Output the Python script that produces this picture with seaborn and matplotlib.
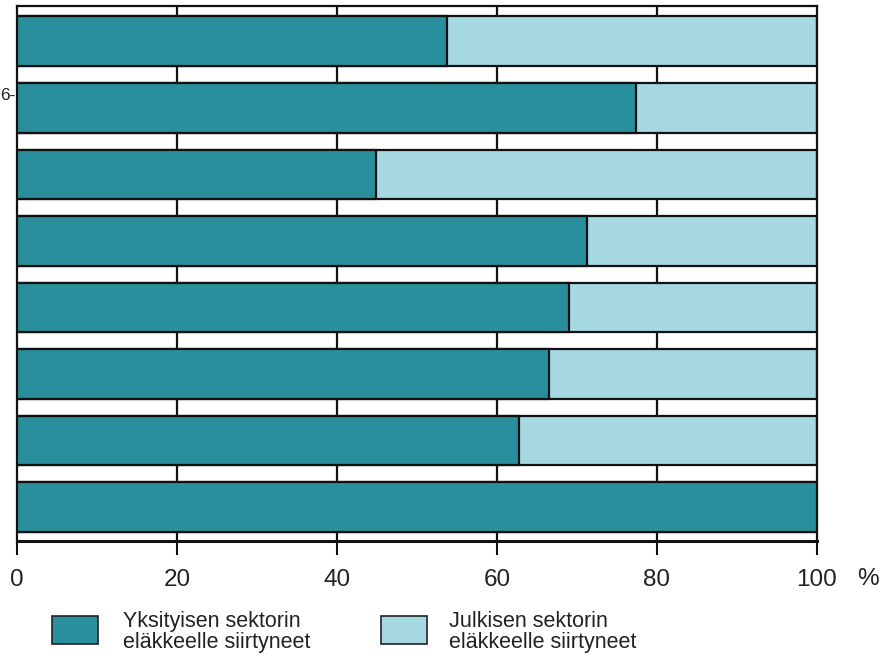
import matplotlib
matplotlib.use("Agg")
import matplotlib.pyplot as plt
import seaborn as sns
import pandas as pd
from matplotlib.patches import Rectangle

# ---- data ----
groups = ["1", "2", "3", "4", "5", "6", "7", "8"]
private_share = [53.8, 77.4, 44.9, 71.3, 69.0, 66.5, 62.7, 100.0]
public_share = [46.2, 22.6, 55.1, 28.7, 31.0, 33.5, 37.3, 0.0]
xticks = [0, 20, 40, 60, 80, 100]
legend_labels = ["Yksityisen sektorin\neläkkeelle siirtyneet",
                 "Julkisen sektorin\neläkkeelle siirtyneet"]

DARK = "#2a8f9d"
LIGHT = "#a6d8e2"
INK = "#222222"

sns.set_theme(style="white")
plt.rcParams["font.family"] = ["Liberation Sans", "DejaVu Sans"]

df = pd.DataFrame({"group": groups,
                   "private": private_share,
                   "public": public_share})
df["total"] = df["private"] + df["public"]

W, H = 887, 657
fig = plt.figure(figsize=(W / 100, H / 100), dpi=100)
ax = fig.add_axes([17 / W, 1 - 541 / H, 800 / W, 535 / H])

for v in xticks[1:-1]:
    ax.axvline(v, color="#111111", lw=1.6, zorder=0)

sns.barplot(data=df, y="group", x="total", orient="h", color=LIGHT,
            saturation=1, width=0.745, edgecolor="#111111", linewidth=1.6,
            ax=ax, zorder=2)
sns.barplot(data=df, y="group", x="private", orient="h", color=DARK,
            saturation=1, width=0.745, edgecolor="#111111", linewidth=1.6,
            ax=ax, zorder=3)

ax.set_xlim(0, 100)
ax.set_ylim(7.51, -0.53)
ax.set_xlabel("")
ax.set_ylabel("")
ax.set_yticks([])
ax.set_xticks(xticks)
ax.set_xticklabels([str(t) for t in xticks], fontsize=17.5, color=INK)
ax.tick_params(axis="x", direction="out", length=10, width=1.5,
               color="#111111", pad=10, bottom=True)
for s in ax.spines.values():
    s.set_visible(True)
    s.set_color("#111111")
    s.set_linewidth(1.6)
ax.spines["bottom"].set_linewidth(2.2)

# percent sign after the axis
fig.text(857 / W, 1 - 579 / H, "%", fontsize=17.5, color=INK,
         ha="left", va="center")

# partly visible label at the left edge
fig.text(0, 1 - 95 / H, "6-", fontsize=12.5, color=INK,
         ha="left", va="center")

# legend
lx = [52, 381]
tx = [123, 449]
for i, (lab, col) in enumerate(zip(legend_labels, [DARK, LIGHT])):
    fig.patches.append(Rectangle((lx[i] / W, 1 - 644 / H), 46 / W, 28 / H,
                                 transform=fig.transFigure,
                                 facecolor=col, edgecolor="#222222", lw=1.2))
    fig.text(tx[i] / W, 1 - 632 / H, lab, fontsize=15.5, color=INK,
             ha="left", va="center", linespacing=0.95)

fig.savefig("out.png", dpi=100)
